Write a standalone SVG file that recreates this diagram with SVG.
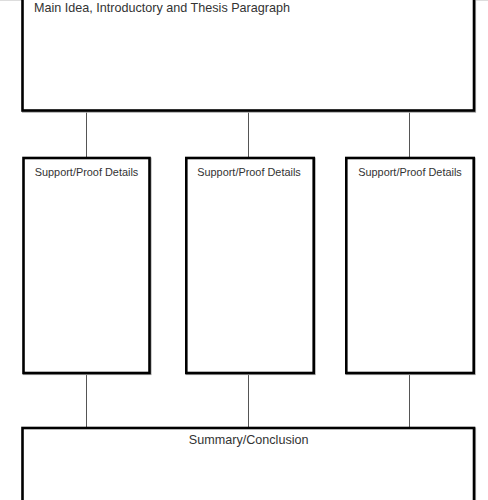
<svg xmlns="http://www.w3.org/2000/svg" width="488" height="500" viewBox="0 0 488 500">
<style>
.box{fill:#fff;stroke:#000;stroke-width:2.6}
.sh{fill:none;stroke:#aaa;stroke-width:2.6}
.con{stroke:#555;stroke-width:1;fill:none}
text{font-family:"Liberation Sans",Arial,sans-serif;fill:#333}
</style>
<rect x="0" y="0" width="488" height="500" fill="#fff"/>
<line x1="0" y1="0.5" x2="488" y2="0.5" stroke="#ddd" stroke-width="1"/>
<g id="connectors">
<line class="con" x1="86.5" y1="111" x2="86.5" y2="158"/>
<line class="con" x1="248.5" y1="111" x2="248.5" y2="158"/>
<line class="con" x1="409.5" y1="111" x2="409.5" y2="158"/>
<line class="con" x1="86.5" y1="373" x2="86.5" y2="428"/>
<line class="con" x1="248.5" y1="373" x2="248.5" y2="428"/>
<line class="con" x1="409.5" y1="373" x2="409.5" y2="428"/>
</g>
<g id="main">
<rect class="sh" x="23.3" y="-9" width="451.5" height="120.5"/>
<rect class="box" x="22.5" y="-10" width="451.5" height="120.5"/>
<text x="34" y="12" font-size="12.6">Main Idea, Introductory and Thesis Paragraph</text>
</g>
<g id="support1">
<rect class="sh" x="24.3" y="158.8" width="126" height="215"/>
<rect class="box" x="23.5" y="158" width="126" height="215"/>
<text x="86.5" y="176" font-size="10.9" text-anchor="middle">Support/Proof Details</text>
</g>
<g id="support2">
<rect class="sh" x="187.1" y="158.8" width="127.4" height="215"/>
<rect class="box" x="186.3" y="158" width="127.4" height="215"/>
<text x="249" y="176" font-size="10.9" text-anchor="middle">Support/Proof Details</text>
</g>
<g id="support3">
<rect class="sh" x="347.1" y="158.8" width="127.4" height="215"/>
<rect class="box" x="346.3" y="158" width="127.4" height="215"/>
<text x="410" y="176" font-size="10.9" text-anchor="middle">Support/Proof Details</text>
</g>
<g id="summary">
<rect class="sh" x="23.3" y="428.8" width="451.5" height="90"/>
<rect class="box" x="22.5" y="428" width="451.5" height="90"/>
<text x="248.7" y="444" font-size="12.6" text-anchor="middle">Summary/Conclusion</text>
</g>
</svg>
